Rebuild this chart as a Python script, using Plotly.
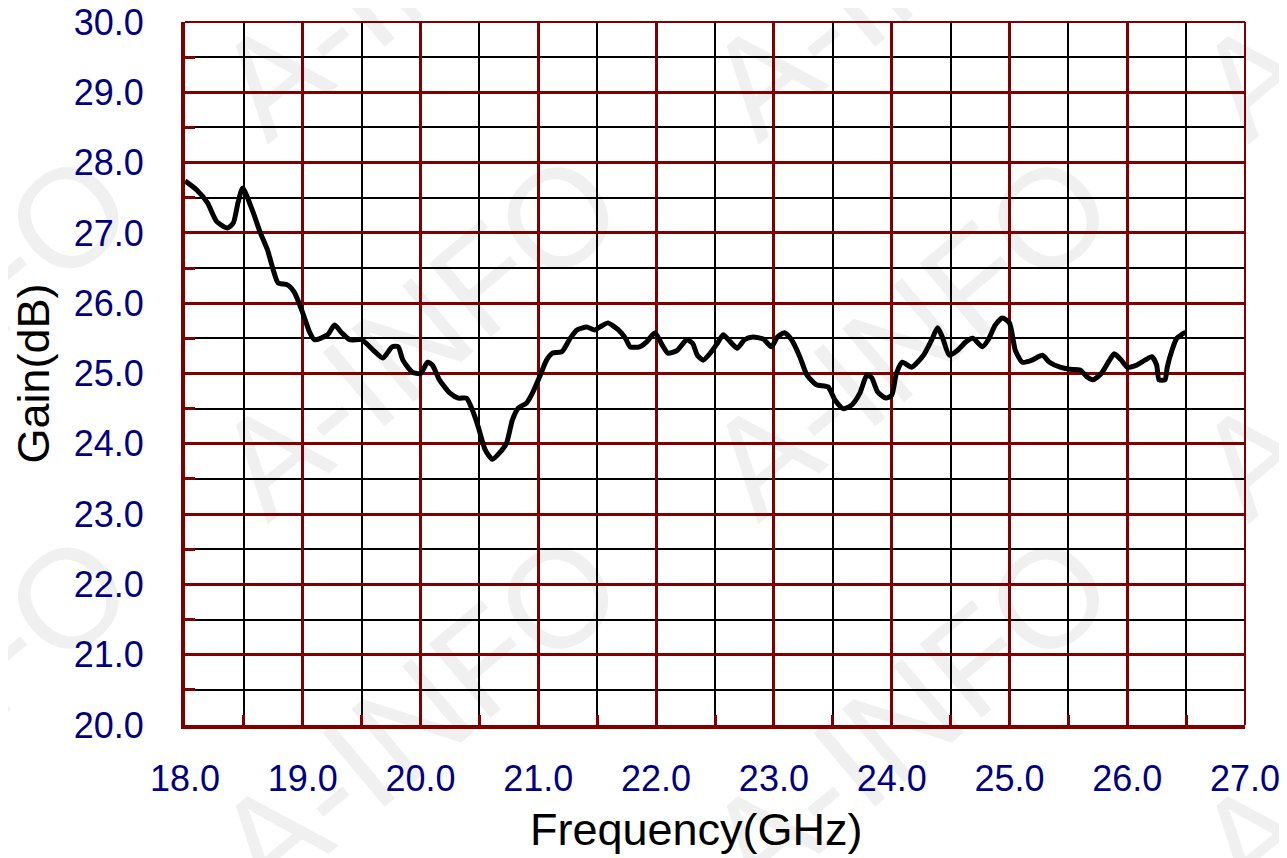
import plotly.graph_objects as go

freq = [18.00, 18.10, 18.19, 18.27, 18.36, 18.41, 18.45, 18.49, 18.57, 18.64,
        18.70, 18.75, 18.79, 18.87, 18.93, 19.00, 19.06, 19.10, 19.21, 19.27,
        19.33, 19.40, 19.50, 19.60, 19.68, 19.76, 19.81, 19.85, 19.93, 20.00,
        20.06, 20.10, 20.16, 20.25, 20.32, 20.39, 20.44, 20.49, 20.55, 20.61,
        20.67, 20.73, 20.78, 20.83, 20.90, 20.95, 21.01, 21.07, 21.12, 21.20,
        21.27, 21.33, 21.41, 21.48, 21.54, 21.59, 21.68, 21.74, 21.78, 21.86,
        21.92, 21.99, 22.05, 22.10, 22.18, 22.26, 22.31, 22.35, 22.40, 22.46,
        22.52, 22.57, 22.63, 22.69, 22.75, 22.82, 22.91, 22.98, 23.03, 23.09,
        23.15, 23.22, 23.28, 23.36, 23.46, 23.52, 23.59, 23.66, 23.73, 23.79,
        23.83, 23.88, 23.95, 24.00, 24.04, 24.09, 24.17, 24.27, 24.34, 24.39,
        24.43, 24.49, 24.56, 24.63, 24.69, 24.77, 24.82, 24.88, 24.94, 25.00,
        25.05, 25.11, 25.19, 25.28, 25.34, 25.43, 25.51, 25.60, 25.66, 25.71,
        25.78, 25.85, 25.89, 25.95, 26.00, 26.08, 26.15, 26.21, 26.25, 26.27,
        26.32, 26.34, 26.38, 26.42, 26.49, 26.50]

gain = [27.74, 27.61, 27.43, 27.16, 27.07, 27.14, 27.43, 27.64, 27.33, 27.00,
        26.76, 26.47, 26.29, 26.26, 26.15, 25.86, 25.58, 25.48, 25.55, 25.69,
        25.58, 25.48, 25.48, 25.33, 25.22, 25.38, 25.38, 25.19, 25.02, 25.00,
        25.16, 25.12, 24.91, 24.72, 24.65, 24.65, 24.48, 24.24, 23.91, 23.78,
        23.87, 24.01, 24.34, 24.51, 24.58, 24.72, 24.95, 25.19, 25.29, 25.31,
        25.50, 25.62, 25.66, 25.62, 25.68, 25.72, 25.62, 25.50, 25.38, 25.38,
        25.45, 25.58, 25.41, 25.29, 25.33, 25.48, 25.43, 25.26, 25.19, 25.29,
        25.43, 25.55, 25.45, 25.36, 25.48, 25.52, 25.49, 25.38, 25.52, 25.58,
        25.48, 25.24, 24.98, 24.84, 24.81, 24.62, 24.50, 24.55, 24.72, 24.98,
        24.94, 24.74, 24.65, 24.69, 25.00, 25.16, 25.09, 25.26, 25.48, 25.65,
        25.52, 25.26, 25.33, 25.45, 25.50, 25.38, 25.48, 25.69, 25.79, 25.72,
        25.33, 25.16, 25.19, 25.26, 25.16, 25.09, 25.06, 25.05, 24.95, 24.91,
        25.00, 25.19, 25.28, 25.19, 25.09, 25.12, 25.19, 25.24, 25.12, 24.91,
        24.91, 25.09, 25.33, 25.50, 25.58, 25.58]

x_title = "Frequency(GHz)"
y_title = "Gain(dB)"
watermark = "A-INFO"

DARKRED = "#800000"
NAVY = "#000080"
FONT = "Liberation Sans, Arial, sans-serif"

fig = go.Figure()
fig.add_trace(go.Scatter(
    x=freq, y=gain, mode="lines",
    line=dict(color="black", width=5, shape="spline", smoothing=0.6),
    showlegend=False, hoverinfo="skip"))

axis_common = dict(
    showline=True, linecolor=DARKRED, linewidth=4,
    showgrid=True, gridcolor=DARKRED, gridwidth=3,
    zeroline=False, ticks="", automargin=False,
    tickformat=".1f", ticklabeloverflow="allow",
    tickfont=dict(family=FONT, size=36, color=NAVY),
)

fig.update_xaxes(
    range=[18, 27], dtick=1, tick0=18, ticklabelstandoff=19,
    minor=dict(dtick=0.5, showgrid=True, gridcolor="black", gridwidth=1.6,
               ticks="inside", ticklen=10, tickwidth=3, tickcolor=DARKRED),
    **axis_common)
fig.update_yaxes(
    range=[20, 30], dtick=1, tick0=20, ticklabelstandoff=30,
    minor=dict(dtick=0.5, showgrid=True, gridcolor="black", gridwidth=1.6,
               ticks="inside", ticklen=10, tickwidth=3, tickcolor=DARKRED),
    title=dict(text=y_title, font=dict(family=FONT, size=45, color="black"), standoff=18),
    **axis_common)

# x-axis title (slightly left of centre, as in the reference)
fig.add_annotation(text=x_title, xref="paper", yref="paper", x=0.483, y=-0.149,
                   xanchor="center", yanchor="middle", showarrow=False,
                   font=dict(family=FONT, size=45, color="black"))

# top and right border lines (thinner)
fig.add_shape(type="line", xref="paper", yref="paper", x0=0, x1=1, y0=1, y1=1,
              line=dict(color=DARKRED, width=2), layer="above")
fig.add_shape(type="line", xref="paper", yref="paper", x0=1, x1=1, y0=0, y1=1,
              line=dict(color=DARKRED, width=2), layer="above")

# watermark
wm_x = [-0.25, 0.212, 0.675, 1.137]
wm_y = [1.109, 0.569, 0.028]
for cx in wm_x:
    for cy in wm_y:
        fig.add_shape(type="rect", xref="paper", yref="paper",
                      x0=cx - 0.01, x1=cx + 0.01, y0=cy - 0.01, y1=cy + 0.01,
                      line=dict(width=0), fillcolor="rgba(0,0,0,0)", layer="below",
                      label=dict(text=watermark, textangle=-40,
                                 textposition="middle center",
                                 font=dict(family=FONT, size=140, color="#f0f0f0")))

# page body has an 8px margin, so the figure is offset by 8px; compensate
fig.update_layout(
    width=1279, height=850,
    margin=dict(l=177, r=42, t=14, b=133),
    paper_bgcolor="white", plot_bgcolor="rgba(0,0,0,0)",
)

fig.write_html("out.html")
